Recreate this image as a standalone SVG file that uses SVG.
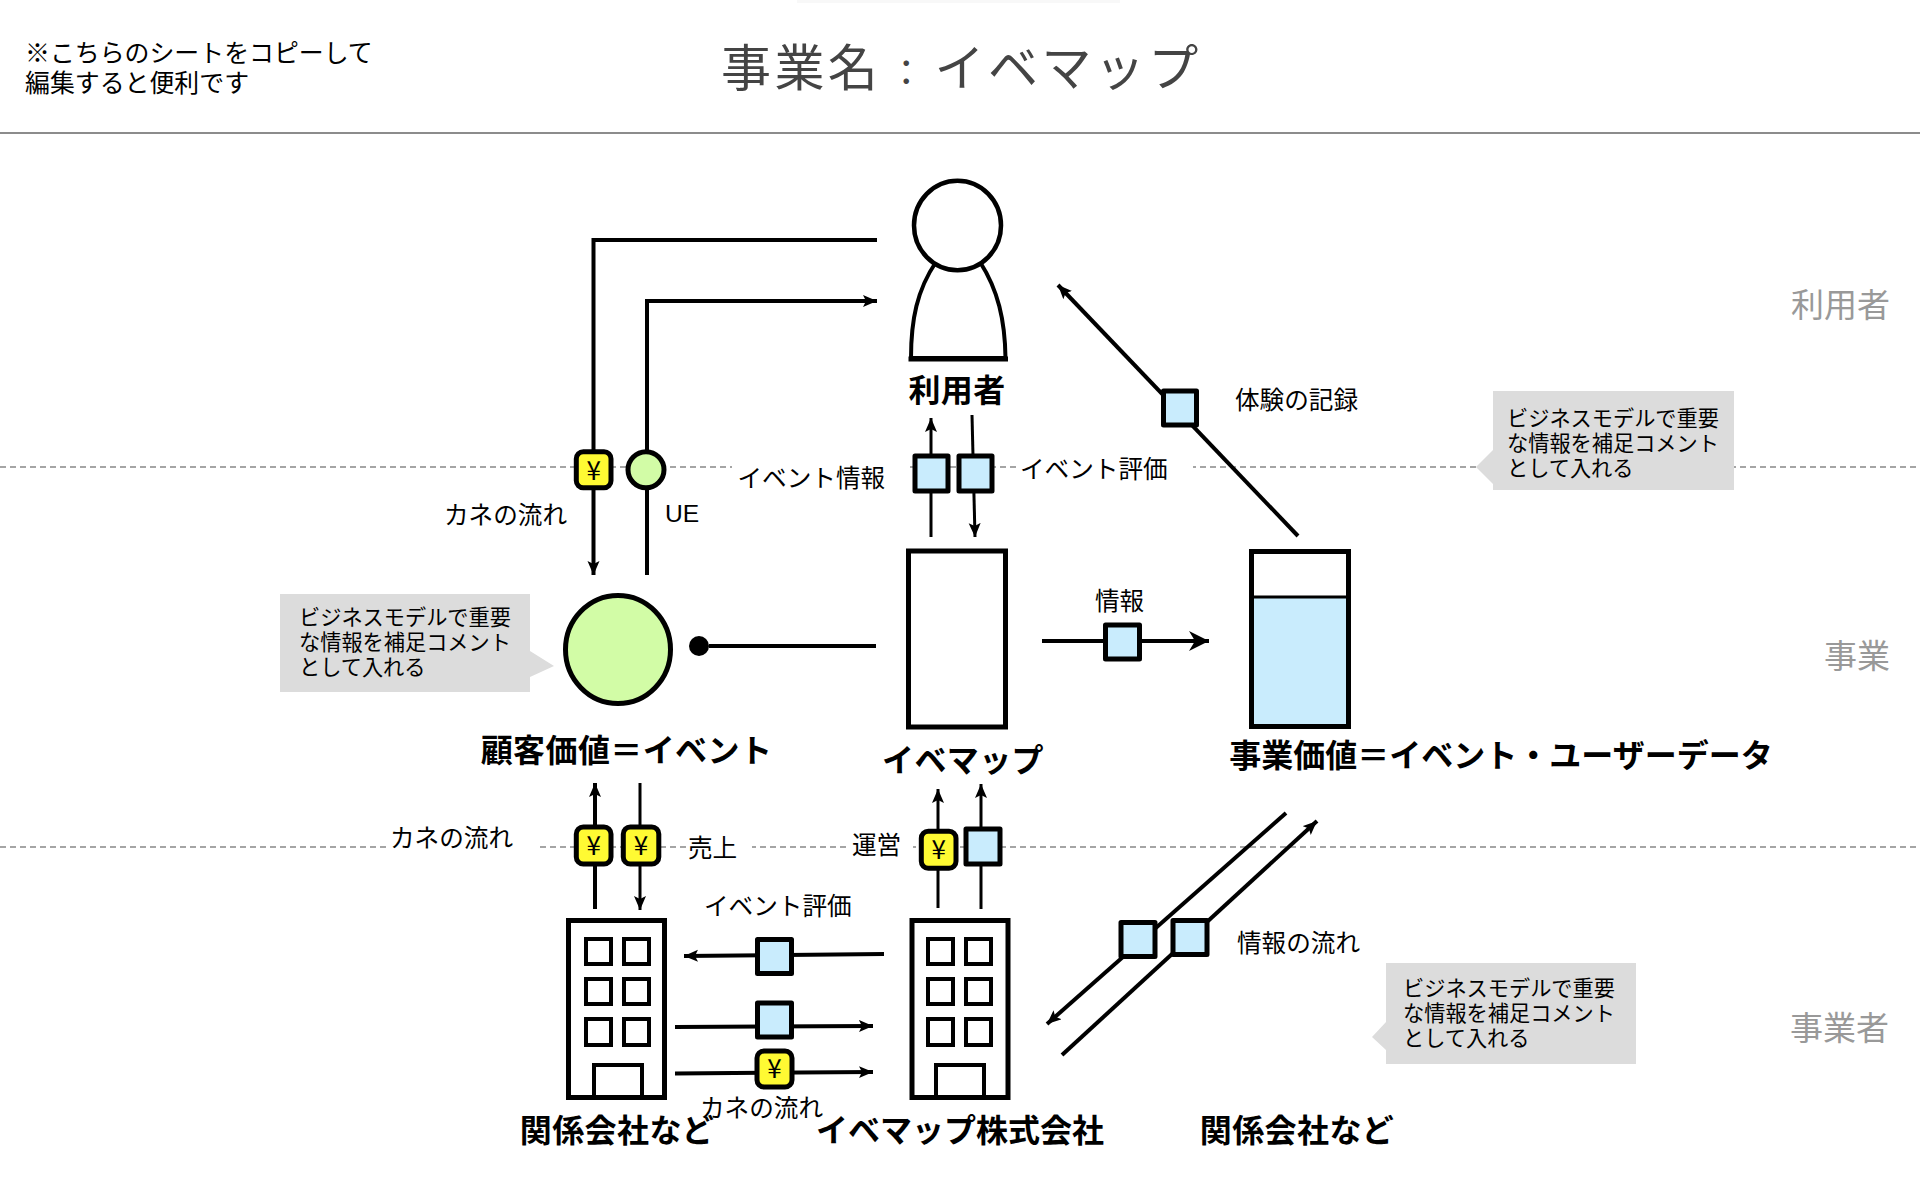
<svg xmlns="http://www.w3.org/2000/svg" width="1920" height="1200" viewBox="0 0 1920 1200">
<style>
text{font-family:"Noto Sans CJK JP","Noto Sans",sans-serif;fill:#000}
.s{font-size:24.6px}
.c{font-size:21.2px}
.b{font-size:32px;font-weight:700;text-anchor:middle;letter-spacing:.4px}
.z{letter-spacing:0}
.g{font-size:33px;fill:#999}
.y{font-size:26px;text-anchor:middle}
.o{fill:#fff;stroke:#000;stroke-width:5}
.w{fill:#fff;stroke:#000;stroke-width:4}
.i{fill:#c9ecfd;stroke:#000;stroke-width:5;stroke-linejoin:round}
.m{fill:#fffa33;stroke:#000;stroke-width:5}
.u{fill:#d2fca6;stroke:#000;stroke-width:5}
.n{fill:#dcdcdc}
.l{fill:none;stroke:#000;stroke-width:4}
.t{fill:none;stroke:#000;stroke-width:3}
.a{marker-end:url(#h)}
.d{fill:none;stroke:#888;stroke-width:1.3;stroke-dasharray:6 4}
.k{fill:#fff}
</style>
<defs>
<marker id="h" markerUnits="userSpaceOnUse" markerWidth="16" markerHeight="14" refX="14" refY="6" orient="auto"><path d="M0 0L14 6L0 12L3 6Z" fill="#000"/></marker>
<marker id="H" markerUnits="userSpaceOnUse" markerWidth="22" markerHeight="22" refX="20" refY="10" orient="auto"><path d="M0 0L20 10L0 20L6 10Z" fill="#000"/></marker>
</defs>
<rect width="1920" height="1200" fill="#fff"/>
<g id="header">
<rect x="797" y="0" width="323" height="3" fill="#f8f8f8"/>
<text x="25" y="62" style="font-size:24.9px">※こちらのシートをコピーして</text>
<text x="25" y="92" style="font-size:24.9px">編集すると便利です</text>
<text x="721" y="86" style="font-size:50px;letter-spacing:3.400px;fill:#444">事業名<tspan dx="7" style="font-size:36px">：</tspan><tspan dx="7">イベマップ</tspan></text>
<line x1="0" y1="133" x2="1920" y2="133" stroke="#666" stroke-width="1.5"/>
</g>
<g id="lanes">
<line class="d" x1="0" y1="467" x2="1920" y2="467"/>
<line class="d" x1="0" y1="847" x2="1920" y2="847"/>
<text class="g" x="1791" y="317">利用者</text>
<text class="g" x="1824" y="668">事業</text>
<text class="g" x="1790" y="1040">事業者</text>
</g>
<g id="connectors">
<path class="l a" d="M877 240H593.500V575"/>
<path class="l a" d="M647 575V301H877"/>
<path class="t a" d="M931 537V418"/>
<path class="t a" d="M972 415L975 537"/>
<path class="l a" d="M1298 536L1058 285"/>
<path class="l" style="marker-end:url(#H)" d="M1042 641H1209"/>
<path class="l" d="M709 646H876"/>
<path class="l a" d="M595 909V783"/>
<path class="t a" d="M640 783V910"/>
<path class="t a" d="M938 908V789"/>
<path class="t a" d="M981 909V784"/>
<path class="l a" d="M884 954L684 956"/>
<path class="l a" d="M675 1027L873 1026"/>
<path class="l a" d="M675 1073.500L873 1072"/>
<path class="l a" d="M1286 813L1047 1024"/>
<path class="l a" d="M1062 1055L1317 821"/>
</g>
<g id="label-event-info"><rect class="k" x="732" y="452" width="176" height="40"/><text class="s" x="737.500" y="487">イベント情報</text></g>
<g id="label-event-eval"><rect class="k" x="1016" y="452" width="177" height="36"/><text class="s" x="1020" y="478">イベント評価</text></g>
<g id="label-money1"><text class="s" x="444" y="524">カネの流れ</text></g>
<g id="label-ue"><text class="s" x="665" y="522" style="font-family:'Liberation Sans',sans-serif">UE</text></g>
<g id="label-exp"><text class="s" x="1235" y="409">体験の記録</text></g>
<g id="label-info"><text class="s" x="1095" y="610">情報</text></g>
<g id="label-money2"><rect class="k" x="387" y="825" width="150" height="34"/><text class="s" x="390" y="847">カネの流れ</text></g>
<g id="label-sales"><rect class="k" x="689" y="835" width="63" height="30"/><text class="s" x="688" y="857">売上</text></g>
<g id="label-ops"><rect class="k" x="847" y="830" width="66" height="30"/><text class="s" x="852" y="854">運営</text></g>
<g id="label-eval2"><text class="s" x="704" y="915">イベント評価</text></g>
<g id="label-money3"><text class="s" x="700" y="1117">カネの流れ</text></g>
<g id="label-flow"><text class="s" x="1237" y="952">情報の流れ</text></g>
<g id="user"><path class="w" d="M911 358C911 320 917 290 936 262H980C998 290 1005 320 1005.500 358Z"/><path d="M908.500 359H1008" stroke="#000" stroke-width="5"/><ellipse class="w" style="stroke-width:4.500" cx="957.500" cy="225.500" rx="43.500" ry="44.700"/><text class="b" x="957" y="402">利用者</text></g>
<g id="customer-value"><ellipse class="u" cx="618" cy="649.500" rx="52.500" ry="54"/><circle cx="699" cy="646" r="10"/><text class="b" x="626.500" y="762">顧客価値＝イベント</text></g>
<g id="service"><rect class="o" x="908.500" y="551" width="97" height="176"/><text class="b" x="963" y="772">イベマップ</text></g>
<g id="business-value"><rect x="1251.500" y="551.500" width="97" height="175" fill="#fff"/><rect x="1251.500" y="597" width="97" height="130" fill="#c9ecfd"/><rect x="1251.500" y="551.500" width="97" height="175" fill="none" stroke="#000" stroke-width="5"/><line x1="1252" y1="597" x2="1348" y2="597" stroke="#000" stroke-width="3"/><text class="b z" x="1501" y="767">事業価値＝イベント・ユーザーデータ</text></g>
<g id="company-a"><rect class="o" x="568.500" y="920.500" width="96" height="177"/><rect class="w" x="586" y="939" width="25" height="25"/><rect class="w" x="624" y="939" width="25" height="25"/><rect class="w" x="586" y="979" width="25" height="25"/><rect class="w" x="624" y="979" width="25" height="25"/><rect class="w" x="586" y="1019" width="25" height="26"/><rect class="w" x="624" y="1019" width="25" height="26"/><rect class="w" x="594" y="1065" width="48" height="32"/><text class="b" x="617" y="1142">関係会社など</text></g>
<g id="company-b"><rect class="o" x="912" y="920.500" width="96" height="177"/><rect class="w" x="928" y="939" width="25" height="25"/><rect class="w" x="966" y="939" width="25" height="25"/><rect class="w" x="928" y="979" width="25" height="25"/><rect class="w" x="966" y="979" width="25" height="25"/><rect class="w" x="928" y="1019" width="25" height="26"/><rect class="w" x="966" y="1019" width="25" height="26"/><rect class="w" x="936" y="1065" width="48" height="32"/><text class="b z" x="960" y="1142">イベマップ株式会社</text></g>
<g id="company-c"><text class="b" x="1297" y="1142">関係会社など</text></g>
<g id="chip-money-1"><rect class="m" x="576.300" y="451.700" width="34.700" height="36" rx="7"/><text class="y" x="593.700" y="480">¥</text></g>
<g id="chip-ue"><circle class="u" cx="646" cy="469.700" r="18"/></g>
<g id="chip-event-info"><rect class="i" x="915" y="456" width="33" height="35"/></g>
<g id="chip-event-eval"><rect class="i" x="959" y="456" width="33" height="35"/></g>
<g id="chip-exp"><rect class="i" x="1163.500" y="391" width="33" height="34"/></g>
<g id="chip-info"><rect class="i" x="1105.500" y="625" width="34" height="34"/></g>
<g id="chip-money-2"><rect class="m" x="576.300" y="827" width="34.700" height="37" rx="7"/><text class="y" x="593.700" y="855">¥</text></g>
<g id="chip-money-3"><rect class="m" x="623.300" y="827" width="35.500" height="37" rx="7"/><text class="y" x="641" y="855">¥</text></g>
<g id="chip-money-4"><rect class="m" x="921.300" y="831.300" width="34.700" height="37" rx="7"/><text class="y" x="938.700" y="859">¥</text></g>
<g id="chip-ops"><rect class="i" x="966" y="829" width="34" height="35"/></g>
<g id="chip-eval-2"><rect class="i" x="757.500" y="939.500" width="34" height="34"/></g>
<g id="chip-mid"><rect class="i" x="757.500" y="1003" width="34" height="34"/></g>
<g id="chip-money-5"><rect class="m" x="757" y="1051" width="35" height="36" rx="7"/><text class="y" x="774.500" y="1078">¥</text></g>
<g id="chip-flow-1"><rect class="i" x="1121" y="922.500" width="34" height="34"/></g>
<g id="chip-flow-2"><rect class="i" x="1173" y="920.500" width="34" height="34"/></g>
<g id="note-1"><path class="n" d="M1493 391H1734V490H1493V484L1476 467L1493 450Z"/><text class="c" x="1507" y="425.500">ビジネスモデルで重要</text><text class="c" x="1507" y="451">な情報を補足コメント</text><text class="c" x="1507" y="475.500">として入れる</text></g>
<g id="note-2"><path class="n" d="M280 594H530V651L554 666L530 677V692H280Z"/><text class="c" x="299" y="624.500">ビジネスモデルで重要</text><text class="c" x="299" y="650">な情報を補足コメント</text><text class="c" x="299" y="675">として入れる</text></g>
<g id="note-3"><path class="n" d="M1386 963H1636V1064H1386V1050L1372 1037L1386 1022Z"/><text class="c" x="1403" y="995.500">ビジネスモデルで重要</text><text class="c" x="1403" y="1020.500">な情報を補足コメント</text><text class="c" x="1403" y="1045.500">として入れる</text></g>
</svg>
